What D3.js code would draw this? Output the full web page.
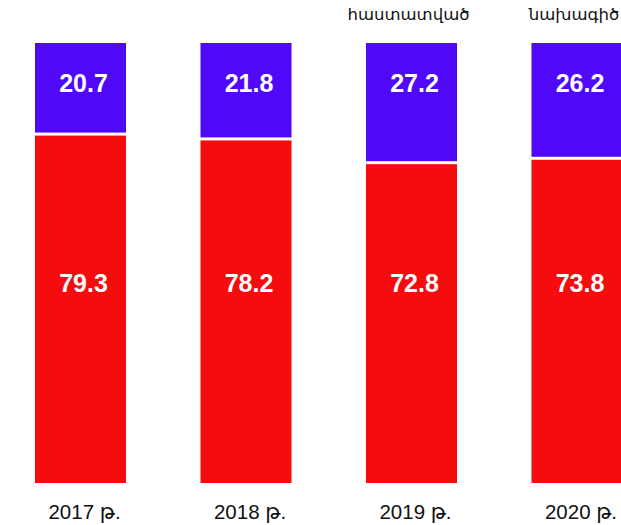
<!DOCTYPE html>
<html>
<head>
<meta charset="utf-8">
<script src="https://cdn.jsdelivr.net/npm/d3@7"></script>
<style>
  html, body { margin: 0; padding: 0; background: #ffffff; }
  svg { display: block; }
</style>
</head>
<body>
<svg id="chart" width="621" height="525"></svg>
<script>
// ---- data ----
const categories = ["2017 թ.", "2018 թ.", "2019 թ.", "2020 թ."];
const bottomValues = [79.3, 78.2, 72.8, 73.8];   // red segment
const topValues = [20.7, 21.8, 27.2, 26.2];      // blue segment
const annotations = ["", "", "հաստատված", "նախագիծ"];

// ---- layout ----
const svg = d3.select("#chart");
const colorTop = "#5009F8";
const colorBottom = "#F40C0E";
const gap = 3;

const x = d3.scaleBand()
  .domain(categories)
  .range([35, 622.5])
  .paddingInner(0.45)
  .paddingOuter(0);

const y = d3.scaleLinear().domain([0, 100]).range([483, 43]);

const rows = categories.map((c, i) => ({
  cat: c, bottom: bottomValues[i], top: topValues[i], note: annotations[i]
}));

const stack = d3.stack().keys(["bottom", "top"])(rows);
const colors = { bottom: colorBottom, top: colorTop };

svg.selectAll("g.series")
  .data(stack)
  .join("g")
  .attr("class", "series")
  .attr("fill", d => colors[d.key])
  .selectAll("rect")
  .data(d => d.map(p => ({ key: d.key, p })))
  .join("rect")
  .attr("x", d => x(d.p.data.cat))
  .attr("width", x.bandwidth())
  .attr("y", d => d.key === "bottom" ? y(d.p[1]) + gap / 2 : y(d.p[1]))
  .attr("height", d => y(d.p[0]) - y(d.p[1]) - gap / 2);

// value labels
const valueFont = "'Liberation Sans', Arial, Helvetica, sans-serif";
svg.selectAll("text.vtop")
  .data(rows)
  .join("text")
  .attr("class", "vtop")
  .attr("x", d => x(d.cat) + x.bandwidth() / 2 + 3)
  .attr("y", y(100) + 49)
  .attr("text-anchor", "middle")
  .attr("fill", "#ffffff")
  .attr("font-family", valueFont)
  .attr("font-weight", "bold")
  .attr("font-size", 25)
  .text(d => d.top.toFixed(1));

svg.selectAll("text.vbot")
  .data(rows)
  .join("text")
  .attr("class", "vbot")
  .attr("x", d => x(d.cat) + x.bandwidth() / 2 + 3)
  .attr("y", 292)
  .attr("text-anchor", "middle")
  .attr("fill", "#ffffff")
  .attr("font-family", valueFont)
  .attr("font-weight", "bold")
  .attr("font-size", 25)
  .text(d => d.bottom.toFixed(1));

// category axis labels
const axis = d3.axisBottom(x).tickSize(0).tickPadding(0);
const gAxis = svg.append("g").attr("transform", "translate(4,519)").call(axis);
gAxis.select(".domain").remove();
gAxis.selectAll("text")
  .attr("dy", 0)
  .attr("y", 0)
  .attr("fill", "#111")
  .attr("font-family", "'Liberation Sans', 'DejaVu Sans', Arial, sans-serif")
  .attr("font-size", 20.5);

// annotations above bars
svg.selectAll("text.note")
  .data(rows.filter(d => d.note))
  .join("text")
  .attr("class", "note")
  .attr("x", d => x(d.cat) + x.bandwidth() / 2 - 3)
  .attr("y", 20)
  .attr("text-anchor", "middle")
  .attr("fill", "#111")
  .attr("font-family", "'DejaVu Sans', 'Noto Sans', sans-serif")
  .attr("font-size", 16.5)
  .text(d => d.note);
</script>
</body>
</html>
